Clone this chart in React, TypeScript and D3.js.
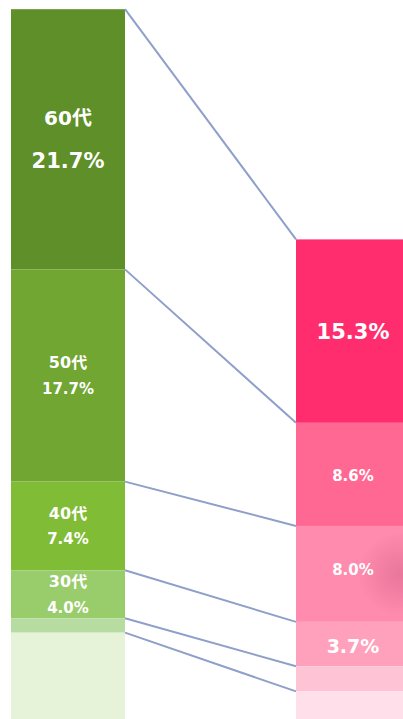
import React from 'react';
import * as d3 from 'd3';

// left column: age groups (share of total, %)
const leftAges = ['60代', '50代', '40代', '30代', '20代', 'その他'];
const leftValues = [21.7, 17.7, 7.4, 4.0, 1.2, 7.2];
const leftColors = ['#5e8f29', '#70a631', '#80bc35', '#99cc6a', '#b6dca1', '#e7f3d9'];
const leftShowLabel = [true, true, true, true, false, false];

// right column
const rightValues = [15.3, 8.6, 8.0, 3.7, 2.1, 2.3];
const rightColors = ['#ff2d6e', '#ff6893', '#ff8bae', '#ffa1bd', '#ffc3d6', '#ffe0ea'];
const rightShowLabel = [true, true, true, true, false, false];

const W = 403;
const H = 719;
const bottom = 719;
const pxPerPct = 11.99;

const stackUp = (vals: number[]) => {
  let acc = 0;
  return vals.map((v) => {
    const s = { y0: acc, y1: acc + v, v };
    acc += v;
    return s;
  });
};

const App = () => {
  const total = d3.sum(leftValues);
  const y = d3
    .scaleLinear()
    .domain([0, total])
    .range([bottom, bottom - total * pxPerPct]);

  const bw = 114;
  const lx = 11;
  const rx = 296;

  const leftStack = stackUp([...leftValues].reverse()).reverse();
  const rightStack = stackUp([...rightValues].reverse()).reverse();
  const fmt = d3.format('.1f');

  // font sizes / label nudges
  const rightSize = [21, 15, 15, 19];
  const rightNudge = [0, 1, -4, 2];

  return (
    <svg
      width={W}
      height={H}
      style={{ position: 'absolute', left: 0, top: 0, display: 'block' }}
      fontFamily="'DejaVu Sans', 'Noto Sans CJK JP', sans-serif"
    >
      <defs>
        <radialGradient id="smudge" cx="0.5" cy="0.5" r="0.5">
          <stop offset="0%" stopColor="#b0406a" stopOpacity="0.28" />
          <stop offset="100%" stopColor="#b0406a" stopOpacity="0" />
        </radialGradient>
      </defs>
      {leftStack.map((s, i) => (
        <rect
          key={'l' + i}
          x={lx}
          y={y(s.y1)}
          width={bw}
          height={y(s.y0) - y(s.y1)}
          fill={leftColors[i]}
        />
      ))}
      {rightStack.map((s, i) => (
        <rect
          key={'r' + i}
          x={rx}
          y={y(s.y1)}
          width={bw}
          height={y(s.y0) - y(s.y1)}
          fill={rightColors[i]}
        />
      ))}
      {/* soft shadow on 3rd pink block */}
      <rect
        x={rx + 62}
        y={(y(rightStack[2].y1) + y(rightStack[2].y0)) / 2 - 42}
        width={84}
        height={84}
        fill="url(#smudge)"
      />
      {leftStack.map((s, i) => (
        <line
          key={'c' + i}
          x1={lx + bw}
          y1={y(s.y1)}
          x2={rx}
          y2={y(rightStack[i].y1)}
          stroke="#8e9fca"
          strokeWidth={2}
        />
      ))}
      {leftStack.map((s, i) => {
        if (!leftShowLabel[i]) return null;
        const cy = (y(s.y0) + y(s.y1)) / 2;
        const big = i === 0;
        const fs = big ? 20 : 15;
        const gap = big ? 21.5 : 12.8;
        return (
          <g key={'lt' + i} fill="#fff" fontWeight="bold" textAnchor="middle" fontSize={fs}>
            <text x={lx + bw / 2} y={cy - gap} dy="0.36em" fontSize={big ? 20 : 16}>
              {leftAges[i]}
            </text>
            <text x={lx + bw / 2} y={cy + gap} dy="0.36em" fontSize={big ? 21 : 15}>
              {fmt(s.v)}%
            </text>
          </g>
        );
      })}
      {rightStack.map((s, i) => {
        if (!rightShowLabel[i]) return null;
        const cy = (y(s.y0) + y(s.y1)) / 2;
        return (
          <text
            key={'rt' + i}
            x={rx + bw / 2}
            y={cy + rightNudge[i]}
            dy="0.36em"
            fill="#fff"
            fontWeight="bold"
            textAnchor="middle"
            fontSize={rightSize[i]}
          >
            {fmt(s.v)}%
          </text>
        );
      })}
    </svg>
  );
};

export default App;
